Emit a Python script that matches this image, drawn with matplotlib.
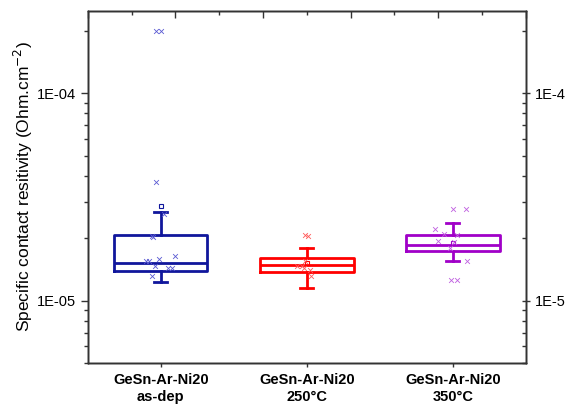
import numpy as np
import matplotlib
matplotlib.use('Agg')
import matplotlib.pyplot as plt
from matplotlib.ticker import LogLocator, FuncFormatter, NullFormatter, MultipleLocator

plt.rcParams['font.family'] = ['Liberation Sans', 'DejaVu Sans']

# categories
labels = ['GeSn-Ar-Ni20\nas-dep', 'GeSn-Ar-Ni20\n250°C', 'GeSn-Ar-Ni20\n350°C']
colors = ['#10169c', '#ff0000', '#a000c8']
point_colors = ['#5a5ad2', '#ff5a5a', '#c060e0']

# box statistics (Ohm.cm^-2)
q1 = [1.39e-5, 1.38e-5, 1.74e-5]
med = [1.52e-5, 1.49e-5, 1.86e-5]
q3 = [2.08e-5, 1.61e-5, 2.08e-5]
whislo = [1.23e-5, 1.15e-5, 1.56e-5]
whishi = [2.68e-5, 1.80e-5, 2.37e-5]
means = [2.86e-5, 1.52e-5, 1.90e-5]

# individual measurements and their horizontal jitter
pts_asdep = [2.01e-4, 2.01e-4, 3.73e-5, 2.62e-5, 2.05e-5, 2.03e-5, 1.64e-5, 1.59e-5,
             1.56e-5, 1.56e-5, 1.47e-5, 1.44e-5, 1.43e-5, 1.32e-5]
jit_asdep = [-0.03, 0.0, -0.03, 0.02, -0.06, -0.05, 0.10, -0.01,
             -0.10, -0.08, -0.04, 0.05, 0.08, -0.06]
pts_250 = [2.08e-5, 2.06e-5, 1.56e-5, 1.46e-5, 1.46e-5, 1.43e-5, 1.40e-5, 1.32e-5]
jit_250 = [-0.01, 0.01, -0.01, -0.07, -0.03, -0.02, 0.02, 0.03]
pts_350 = [2.77e-5, 2.77e-5, 2.22e-5, 2.10e-5, 2.08e-5, 1.94e-5, 1.92e-5, 1.80e-5,
           1.56e-5, 1.25e-5, 1.25e-5]
jit_350 = [0.0, 0.09, -0.12, -0.06, 0.03, -0.10, 0.01, -0.02, 0.10, -0.01, 0.03]

points = [pts_asdep, pts_250, pts_350]
jitter = [jit_asdep, jit_250, jit_350]

fig = plt.figure(figsize=(5.66, 4.05), dpi=100)
ax = fig.add_axes([0.155, 0.104, 0.774, 0.869])

for i in range(3):
    stats = [dict(q1=q1[i], med=med[i], q3=q3[i], whislo=whislo[i], whishi=whishi[i],
                  mean=means[i], fliers=[])]
    c = colors[i]
    ax.bxp(stats, positions=[i + 1], widths=0.64, capwidths=0.09, showmeans=True,
           showfliers=False, patch_artist=False,
           boxprops=dict(color=c, linewidth=2),
           medianprops=dict(color=c, linewidth=2),
           whiskerprops=dict(color=c, linewidth=2),
           capprops=dict(color=c, linewidth=2),
           meanprops=dict(marker='s', markersize=3.5, markerfacecolor='none',
                          markeredgecolor=c, markeredgewidth=0.8))
    ax.scatter(np.array(jitter[i]) + i + 1, points[i], marker='x', s=12,
               color=point_colors[i], linewidths=0.6, zorder=3)

ax.set_yscale('log')
ax.set_ylim(5e-6, 2.5e-4)
ax.set_xlim(0.5, 3.5)
ax.set_xticks([1, 2, 3])
ax.set_xticklabels(labels, fontsize=10.5, fontweight='bold', linespacing=1.35)
ax.yaxis.set_major_locator(LogLocator(base=10))
ax.yaxis.set_minor_locator(LogLocator(base=10, subs=np.arange(2, 10)))
ax.yaxis.set_major_formatter(FuncFormatter(lambda v, p: '1E-%02d' % round(-np.log10(v))))
ax.yaxis.set_minor_formatter(NullFormatter())
ax.tick_params(axis='y', which='major', direction='out', length=5, width=1, labelsize=10.5, colors='#333333', labelcolor='black')
ax.tick_params(axis='y', which='minor', direction='out', length=3, width=1, colors='#333333')
ax.tick_params(axis='x', which='major', direction='out', length=3, width=1, pad=4, colors='#333333', labelcolor='black')
ax.set_ylabel('Specific contact resitivity (Ohm.cm$^{-2}$)', fontsize=12.5, labelpad=1)
for s in ax.spines.values():
    s.set_color('#333333')
    s.set_linewidth(1)

# right mirror axis
axr = ax.twinx()
axr.set_yscale('log')
axr.set_ylim(ax.get_ylim())
axr.yaxis.set_major_locator(LogLocator(base=10))
axr.yaxis.set_minor_locator(LogLocator(base=10, subs=np.arange(2, 10)))
axr.yaxis.set_major_formatter(FuncFormatter(lambda v, p: '1E-%d' % round(-np.log10(v))))
axr.yaxis.set_minor_formatter(NullFormatter())
axr.tick_params(axis='y', which='major', direction='inout', length=6, width=1, labelsize=10.5, colors='#333333', labelcolor='black')
axr.tick_params(axis='y', which='minor', direction='in', length=3, width=1, colors='#333333')

# top axis ticks
axt = ax.twiny()
axt.set_xlim(0, 1)
axt.xaxis.set_major_locator(MultipleLocator(0.2))
axt.xaxis.set_minor_locator(MultipleLocator(0.1))
axt.tick_params(axis='x', which='major', direction='in', length=5, width=1, labeltop=False, colors='#333333')
axt.tick_params(axis='x', which='minor', direction='in', length=3, width=1, colors='#333333')
for a in (axr, axt):
    for s in a.spines.values():
        s.set_color('#333333')
        s.set_linewidth(1)

fig.savefig('out.png', dpi=100)
